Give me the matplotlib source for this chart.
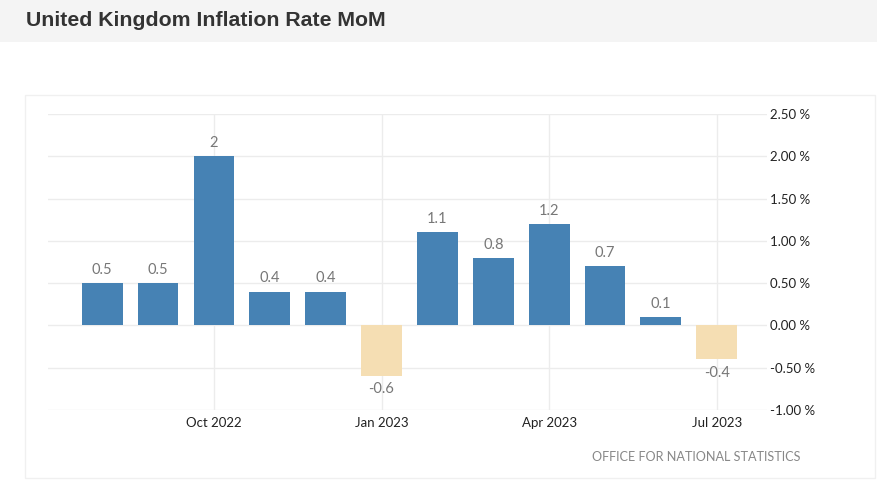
import matplotlib
matplotlib.use("Agg")
import matplotlib.pyplot as plt
from matplotlib.patches import Rectangle

months = ["Aug 2022", "Sep 2022", "Oct 2022", "Nov 2022", "Dec 2022", "Jan 2023",
          "Feb 2023", "Mar 2023", "Apr 2023", "May 2023", "Jun 2023", "Jul 2023"]
values = [0.5, 0.5, 2.0, 0.4, 0.4, -0.6, 1.1, 0.8, 1.2, 0.7, 0.1, -0.4]
value_labels = ["0.5", "0.5", "2", "0.4", "0.4", "-0.6", "1.1", "0.8", "1.2", "0.7", "0.1", "-0.4"]
xtick_labels = ["Oct 2022", "Jan 2023", "Apr 2023", "Jul 2023"]
ytick_values = [-1.0, -0.5, 0.0, 0.5, 1.0, 1.5, 2.0, 2.5]

W, H = 877, 501
fig = plt.figure(figsize=(W / 100, H / 100), dpi=100)
fig.patch.set_facecolor("white")

font = "Lato"

# title band
fig.patches.append(Rectangle((0, 1 - 42 / H), 1, 42 / H, transform=fig.transFigure,
                             facecolor="#f4f4f4", edgecolor="none", zorder=0))
fig.text(26 / W, 1 - 21 / H, "United Kingdom Inflation Rate MoM", fontsize=15.3,
         fontweight="bold", color="#333333", family="Liberation Sans",
         ha="left", va="center")

# outer box
fig.patches.append(Rectangle((25 / W, 1 - 478 / H), (875 - 25) / W, (478 - 95) / H,
                             transform=fig.transFigure, facecolor="none",
                             edgecolor="#f0f0f0", linewidth=1, zorder=0))

ax = fig.add_axes([48 / W, 1 - 410 / H, (767 - 48) / W, (410 - 114) / H])
x = list(range(len(months)))
colors = ["#4682b4" if v >= 0 else "#f5deb3" for v in values]
ax.bar(x, values, width=0.73, color=colors, zorder=3)

for xi, v, lab in zip(x, values, value_labels):
    if v >= 0:
        ax.annotate(lab, (xi, v), xytext=(0, 4.5), textcoords="offset points",
                    ha="center", va="bottom", fontsize=10.5, color="#777777",
                    family=font)
    else:
        ax.annotate(lab, (xi, v), xytext=(0, -4.5), textcoords="offset points",
                    ha="center", va="top", fontsize=10.5, color="#777777",
                    family=font)

ax.set_xlim(-0.97, 11.9)
ax.set_ylim(-1.0, 2.5)
tick_pos = [months.index(m) for m in xtick_labels]
ax.set_xticks(tick_pos)
ax.set_xticklabels(xtick_labels, fontsize=9.5, color="#222222", family=font)
ax.set_yticks(ytick_values)
ax.set_yticklabels([f"{v:.2f} %" for v in ytick_values], fontsize=9.5,
                   color="#222222", family=font)
ax.yaxis.tick_right()
ax.tick_params(axis="both", length=0)
ax.tick_params(axis="y", pad=2)
ax.tick_params(axis="x", pad=5)
ax.grid(True, color="#ececec", linewidth=1, zorder=0)
ax.set_axisbelow(True)
for s in ax.spines.values():
    s.set_visible(False)

fig.text(800 / W, 1 - 457 / H, "OFFICE FOR NATIONAL STATISTICS", fontsize=9.1,
         color="#888888", family=font, ha="right", va="center")

fig.savefig("out.png", dpi=100)
